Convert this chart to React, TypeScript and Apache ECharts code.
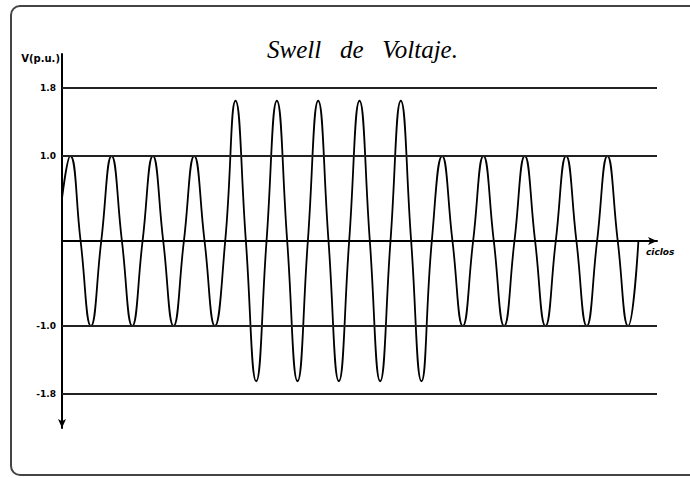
import React, { useEffect, useRef } from "react";
import * as echarts from "echarts";

// Crest amplitude (p.u.) of each cycle: normal, swell, normal
const cycleAmplitude = [1.0, 1.0, 1.0, 1.0, 1.65, 1.65, 1.65, 1.65, 1.65, 1.0, 1.0, 1.0, 1.0, 1.0];
// Position of the first crest within a cycle, and the value where the trace starts
const crestPhase = 0.2;
const startValue = 0.5;
// Reference levels drawn across the plot
const levels = [1.8, 1.0, -1.0, -1.8];

const titleText = "Swell   de   Voltaje.";
const yName = "V(p.u.)";
const xName = "ciclos";

// Crest, zero crossing, trough, zero crossing of every cycle
function buildWave(): number[][] {
  const pts: number[][] = [[0, startValue]];
  cycleAmplitude.forEach((a, k) => {
    pts.push([k + crestPhase, a]);
    pts.push([k + crestPhase + 0.25, 0]);
    pts.push([k + crestPhase + 0.5, -a]);
    pts.push([k + crestPhase + 0.75, 0]);
  });
  return pts;
}

export default function App() {
  const ref = useRef<HTMLDivElement>(null);

  useEffect(() => {
    if (!ref.current) return;
    const chart = echarts.init(ref.current, null, { renderer: "svg" });
    chart.setOption({
      animation: false,
      backgroundColor: "#ffffff",
      title: {
        text: titleText,
        left: 262,
        top: 32,
        textStyle: {
          fontFamily: "Liberation Serif",
          fontStyle: "italic",
          fontWeight: "normal",
          fontSize: 25,
          color: "#000",
        },
      },
      graphic: [
        {
          type: "rect",
          shape: { x: 11, y: 6, width: 720, height: 469, r: 9 },
          style: { fill: "none", stroke: "#444", lineWidth: 2 },
          silent: true,
        },
      ],
      grid: { left: 62, top: 54, width: 595, height: 374 },
      xAxis: {
        type: "value",
        min: 0,
        max: 14.4,
        name: xName,
        nameLocation: "end",
        nameGap: -11,
        nameTextStyle: {
          fontFamily: "DejaVu Sans",
          fontSize: 9,
          fontStyle: "italic",
          fontWeight: "bold",
          color: "#000",
          verticalAlign: "top",
          align: "left",
          padding: [6, 0, 0, 0],
        },
        axisLine: {
          onZero: true,
          symbol: ["none", "arrow"],
          symbolSize: [6, 9],
          lineStyle: { color: "#000", width: 2 },
        },
        axisTick: { show: false },
        axisLabel: { show: false },
        splitLine: { show: false },
      },
      yAxis: {
        type: "value",
        min: -2.2,
        max: 2.2,
        name: yName,
        nameLocation: "end",
        nameGap: -4,
        nameTextStyle: {
          fontFamily: "DejaVu Sans",
          fontSize: 10,
          fontWeight: "bold",
          color: "#000",
          align: "right",
          verticalAlign: "middle",
          padding: [0, 2, 0, 0],
        },
        axisLine: {
          show: true,
          symbol: ["arrow", "none"],
          symbolSize: [6, 9],
          lineStyle: { color: "#000", width: 2 },
        },
        axisTick: { show: false },
        axisLabel: { show: false },
        splitLine: { show: false },
      },
      series: [
        {
          type: "line",
          data: buildWave(),
          smooth: 0.5,
          showSymbol: false,
          silent: true,
          lineStyle: { color: "#000", width: 1.8 },
          markLine: {
            silent: true,
            symbol: ["none", "none"],
            lineStyle: { type: "solid", color: "#222", width: 2 },
            label: {
              position: "start",
              distance: 6,
              fontFamily: "DejaVu Sans",
              fontSize: 9,
              fontWeight: "bold",
              color: "#000",
              formatter: (p: any) => Number(p.value).toFixed(1),
            },
            data: levels.map((v) => ({ yAxis: v })),
          },
        },
      ],
    });
    return () => chart.dispose();
  }, []);

  return (
    <div
      ref={ref}
      style={{ position: "fixed", left: 0, top: 0, width: 690, height: 478, background: "#fff" }}
    />
  );
}
